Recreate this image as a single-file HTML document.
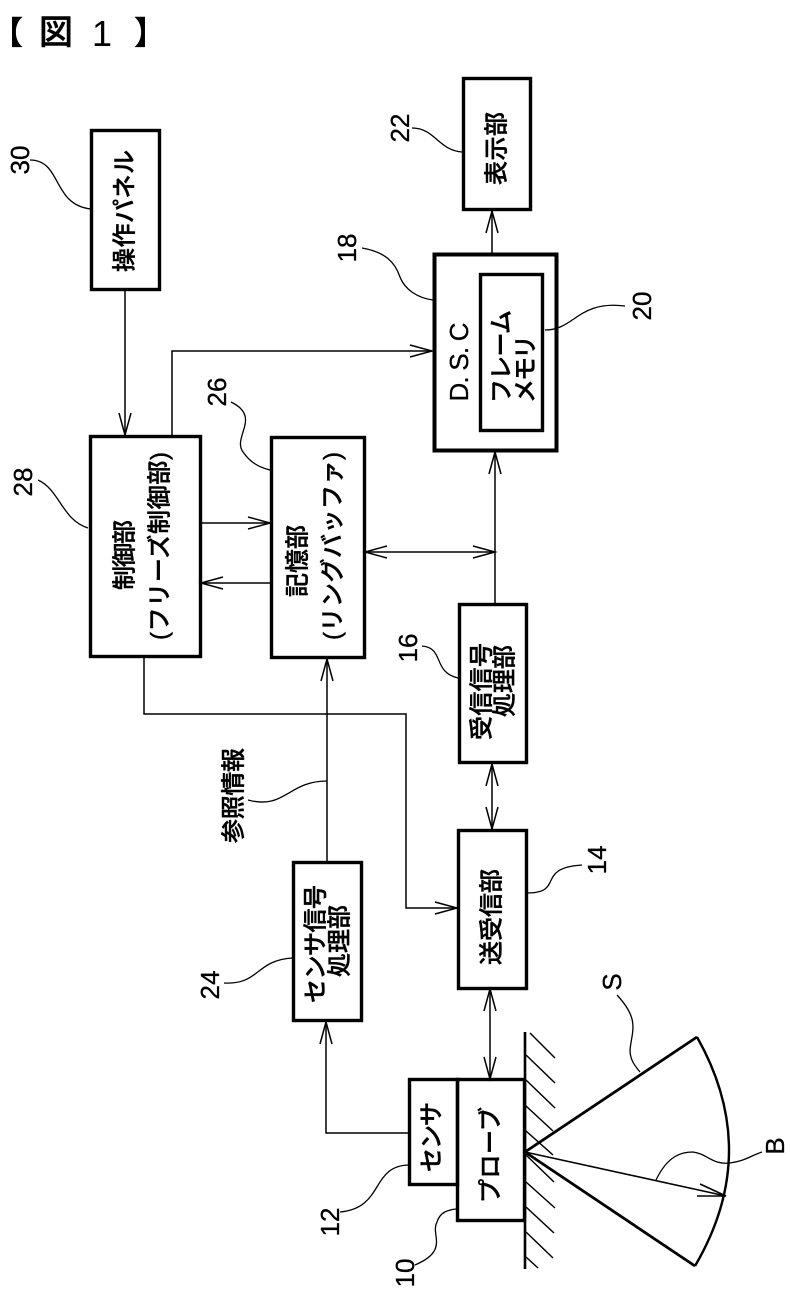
<!DOCTYPE html>
<html><head><meta charset="utf-8"><style>
html,body{margin:0;padding:0;background:#fff}
svg{display:block}
.j{font-family:"Liberation Sans","Noto Sans CJK JP",sans-serif;font-weight:500;fill:#000;stroke:#000;stroke-width:.45}
.n{font-family:"Liberation Sans",sans-serif;fill:#000;stroke:#000;stroke-width:.3}
</style></head><body>
<svg width="790" height="1297" viewBox="0 0 790 1297" xmlns="http://www.w3.org/2000/svg">
<rect width="790" height="1297" fill="#fff"/>
<g fill="none" stroke="#000" stroke-width="3.4">
<rect x="91.5" y="130.5" width="68" height="159"/>
<rect x="463.5" y="78.5" width="67" height="131"/>
<rect x="434.5" y="254.5" width="122" height="196" stroke-width="4"/>
<rect x="480.5" y="274.5" width="62" height="156"/>
<rect x="90.5" y="436.5" width="110" height="220"/>
<rect x="271.5" y="437.5" width="93" height="220"/>
<rect x="459.5" y="604.5" width="67" height="158"/>
<rect x="458.5" y="830.5" width="68" height="158"/>
<rect x="293.5" y="862.5" width="68" height="158"/>
<rect x="409.5" y="1079.5" width="48" height="105"/>
<rect x="457.5" y="1079.5" width="67" height="141"/>
</g>
<g fill="none" stroke="#000" stroke-width="1.5">
<path d="M125 290V435M172 436V351H432M200 523H270M271 583H201M144 657V714H406V908H457M327 862V659M365 552H495M495 604V452M492 254V211M492 764V829M490 989V1079M410 1133H326V1022"/>
<path d="M119 413L125 435L131 413M410 345L432 351L410 357M248 517L270 523L248 529M223 577L201 583L223 589M435 902L457 908L435 914M321 681L327 659L333 681M387 546L365 552L387 558M473 546L495 552L473 558M489 474L495 452L501 474M486 233L492 211L498 233M486 786L492 764L498 786M486 807L492 829L498 807M484 1011L490 989L496 1011M484 1057L490 1079L496 1057M320 1044L326 1022L332 1044"/>
<path stroke-width="1.3" d="M30 160C62 160 52 205 91 209M412 128C435 128 438 150 462 152M362 248C385 252 395 262 400 277C405 290 418 298 433 300M545 330C575 330 578 300 625 306M231 402C262 417 232 437 243 452C250 462 258 467 270 470M38 480C60 490 62 520 88 528M422 646C445 648 432 672 458 678M248 800C285 810 288 781 327 781M527 893C565 893 535 868 582 865M224 983C260 985 255 960 293 958M340 1212C385 1208 370 1165 410 1165M415 1265C450 1250 430 1235 437 1222C440 1212 448 1210 456 1209M617 995C640 1020 632 1030 630 1050C630 1060 635 1066 640 1072M656 1180C668 1155 682 1152 693 1152C708 1154 712 1165 730 1163C745 1161 750 1156 762 1152"/>
<path d="M526 1055L555 1083M526 1080L555 1108M526 1106L553 1131M526 1131L553 1155M526 1155L554 1182M526 1182L555 1208M526 1207L554 1233M526 1232L553 1258M526 1257L538 1268M530 1033L555 1058"/>
<path stroke-width="1.6" d="M525 1152L726 1196M700 1184L726 1196L697 1196"/>
<path stroke-width="2.6" d="M525 1032V1269"/>
<path stroke-width="2.8" d="M697 1037L525 1152L695 1266"/>
<path stroke-width="2.4" d="M697 1037Q762 1152 695 1266"/>
</g>
<g font-size="32">
<text class="j" x="-9" y="44">【</text>
<text class="j" x="39" y="44" font-size="34">図</text>
<text class="n" x="92" y="46" font-size="36" style="stroke:none">1</text>
<text class="j" x="134" y="44">】</text>
</g>
<g class="j" font-size="24" text-anchor="start" dominant-baseline="central" lengthAdjust="spacingAndGlyphs">
<text transform="translate(125,272) rotate(-90)" textLength="122">操作パネル</text>
<text transform="translate(497,185) rotate(-90)" textLength="73">表示部</text>
<text transform="translate(502,403) rotate(-90)" textLength="93">フレーム</text>
<text transform="translate(526,403) rotate(-90)" textLength="68">メモリ</text>
<text transform="translate(125,590) rotate(-90)" textLength="70">制御部</text>
<text transform="translate(160,640) rotate(-90)" textLength="188">(フリーズ制御部)</text>
<text transform="translate(298,597) rotate(-90)" textLength="72">記憶部</text>
<text transform="translate(333,640) rotate(-90)" textLength="188">(リングバッファ)</text>
<text transform="translate(482,740) rotate(-90)" textLength="97">受信信号</text>
<text transform="translate(505,717) rotate(-90)" textLength="72">処理部</text>
<text transform="translate(234,843) rotate(-90)" textLength="95">参照情報</text>
<text transform="translate(492,965) rotate(-90)" textLength="96">送受信部</text>
<text transform="translate(316,1003) rotate(-90)" textLength="118">センサ信号</text>
<text transform="translate(340,977) rotate(-90)" textLength="72">処理部</text>
<text transform="translate(432,1172) rotate(-90)" textLength="70">センサ</text>
<text transform="translate(491,1203) rotate(-90)" textLength="96">プローブ</text>
</g>
<g class="n" font-size="26" text-anchor="middle" dominant-baseline="central">
<text transform="translate(459,362) rotate(-90)" textLength="79">D. S. C</text>
<text transform="translate(20,160) rotate(-90)">30</text>
<text transform="translate(400,128) rotate(-90)">22</text>
<text transform="translate(347,248) rotate(-90)">18</text>
<text transform="translate(642,306) rotate(-90)">20</text>
<text transform="translate(217,392) rotate(-90)">26</text>
<text transform="translate(23,482) rotate(-90)">28</text>
<text transform="translate(408,648) rotate(-90)">16</text>
<text transform="translate(597,860) rotate(-90)">14</text>
<text transform="translate(210,985) rotate(-90)">24</text>
<text transform="translate(330,1222) rotate(-90)">12</text>
<text transform="translate(405,1273) rotate(-90)">10</text>
<text transform="translate(612,982) rotate(-90)">S</text>
<text transform="translate(775,1146) rotate(-90)">B</text>
</g>
</svg>
</body></html>
